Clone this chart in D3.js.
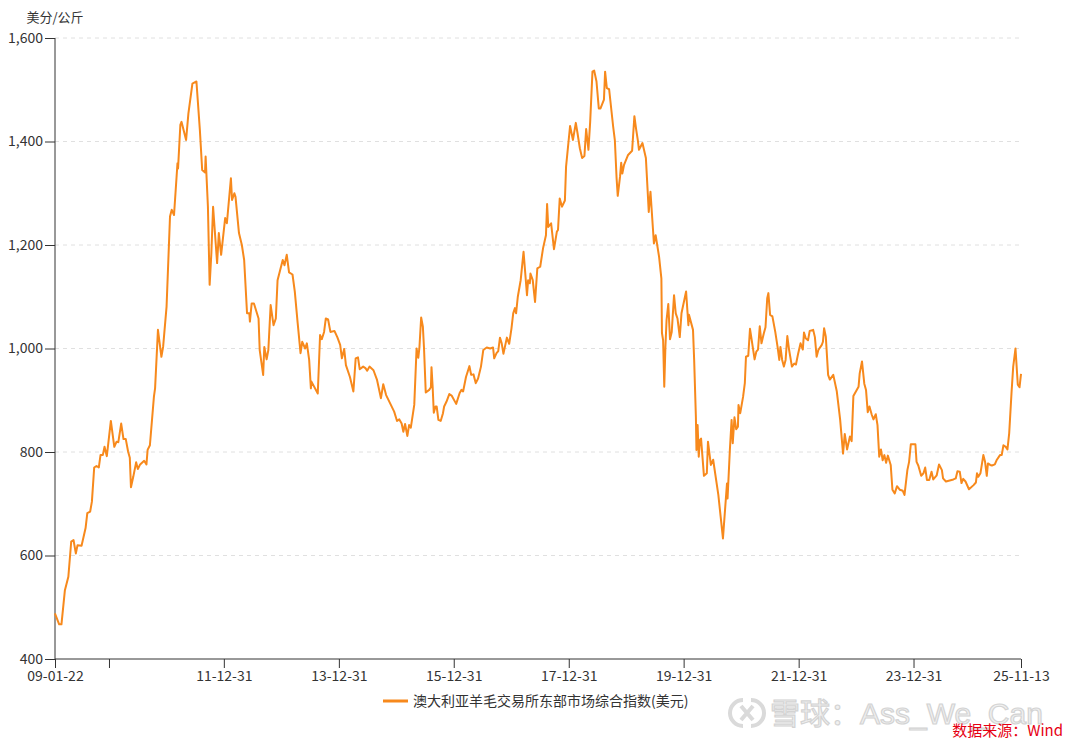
<!DOCTYPE html>
<html><head><meta charset="utf-8">
<script src="https://cdn.jsdelivr.net/npm/d3@7"></script>
<style>
body{margin:0;background:#fff;}
text{font-family:"Noto Sans CJK SC","Liberation Sans",sans-serif;}
</style></head>
<body><svg id="c" width="1082" height="746"></svg>
<script>
// ---- data ----
const yUnit = "美分/公斤";
const seriesName = "澳大利亚羊毛交易所东部市场综合指数(美元)";
const sourceText = "数据来源：Wind";
const watermarkText = "雪球：Ass_We_Can";
const yTicks = [400, 600, 800, 1000, 1200, 1400, 1600];
const xTickDates = ["2009-01-22","2009-12-31","2011-12-31","2013-12-31","2015-12-31","2017-12-31","2019-12-31","2021-12-31","2023-12-31","2025-11-13"];
const xTickLabels = ["09-01-22","","11-12-31","13-12-31","15-12-31","17-12-31","19-12-31","21-12-31","23-12-31","25-11-13"];
const xDomain = ["2009-01-22","2025-11-13"];
// [decimal year, US cents/kg]
const wool = [
[2009.056,488],[2009.13,467],[2009.17,467],[2009.23,533],[2009.29,559],[2009.34,627],[2009.38,630],[2009.42,604],[2009.45,620],[2009.52,619],
[2009.59,653],[2009.62,682],[2009.67,685],[2009.70,704],[2009.74,770],[2009.78,773],[2009.82,770],[2009.85,794],[2009.89,794],[2009.92,810],
[2009.96,792],[2010.03,860],[2010.09,810],[2010.13,820],[2010.16,819],[2010.21,855],[2010.25,825],[2010.29,825],[2010.33,801],[2010.36,789],
[2010.38,732],[2010.42,752],[2010.47,780],[2010.50,767],[2010.54,776],[2010.61,783],[2010.65,776],[2010.67,804],[2010.71,813],[2010.78,907],
[2010.80,923],[2010.85,1036],[2010.91,984],[2010.94,1003],[2011.00,1081],[2011.06,1255],[2011.09,1268],[2011.13,1258],[2011.19,1358],[2011.20,1348],
[2011.24,1432],[2011.26,1438],[2011.34,1403],[2011.38,1454],[2011.45,1512],[2011.52,1516],[2011.58,1422],[2011.62,1345],[2011.67,1340],[2011.68,1371],
[2011.72,1274],[2011.75,1123],[2011.78,1184],[2011.81,1274],[2011.88,1165],[2011.91,1223],[2011.95,1181],[2012.02,1252],[2012.05,1242],[2012.12,1329],
[2012.14,1287],[2012.18,1300],[2012.20,1293],[2012.26,1223],[2012.31,1200],[2012.35,1171],[2012.40,1068],[2012.44,1068],[2012.45,1052],[2012.48,1087],
[2012.52,1087],[2012.60,1058],[2012.62,997],[2012.68,949],[2012.70,1003],[2012.74,979],[2012.77,997],[2012.81,1084],[2012.86,1045],[2012.90,1058],
[2012.93,1132],[2013.02,1171],[2013.05,1161],[2013.09,1181],[2013.13,1147],[2013.19,1143],[2013.23,1110],[2013.28,1049],[2013.33,991],[2013.36,1013],
[2013.41,1000],[2013.44,1010],[2013.48,978],[2013.51,923],[2013.52,936],[2013.63,913],[2013.67,1026],[2013.70,1018],[2013.74,1032],[2013.77,1058],
[2013.81,1056],[2013.85,1032],[2013.92,1034],[2013.97,1022],[2014.02,1007],[2014.05,981],[2014.09,999],[2014.12,968],[2014.19,945],[2014.25,917],
[2014.29,981],[2014.33,983],[2014.36,960],[2014.42,965],[2014.46,962],[2014.49,957],[2014.53,965],[2014.60,958],[2014.66,940],[2014.73,904],
[2014.77,931],[2014.82,910],[2014.89,894],[2014.96,878],[2015.01,860],[2015.05,863],[2015.09,855],[2015.12,839],[2015.15,854],[2015.19,831],
[2015.22,852],[2015.25,847],[2015.31,891],[2015.35,1000],[2015.38,982],[2015.40,1002],[2015.43,1060],[2015.46,1042],[2015.48,1000],[2015.51,915],
[2015.57,920],[2015.60,925],[2015.61,964],[2015.63,926],[2015.65,876],[2015.68,888],[2015.70,888],[2015.73,862],[2015.77,860],[2015.81,875],
[2015.83,888],[2015.87,897],[2015.92,912],[2015.96,909],[2016.04,893],[2016.10,914],[2016.13,920],[2016.16,917],[2016.21,945],[2016.27,966],
[2016.30,949],[2016.34,950],[2016.38,933],[2016.42,942],[2016.47,965],[2016.51,997],[2016.57,1002],[2016.63,1000],[2016.68,1002],[2016.70,981],
[2016.74,991],[2016.77,995],[2016.80,1021],[2016.83,1010],[2016.86,990],[2016.92,1021],[2016.96,1009],[2017.00,1039],[2017.03,1068],[2017.06,1078],
[2017.08,1068],[2017.11,1100],[2017.16,1132],[2017.21,1187],[2017.27,1103],[2017.29,1132],[2017.32,1126],[2017.33,1145],[2017.37,1132],[2017.41,1090],
[2017.45,1155],[2017.50,1158],[2017.55,1194],[2017.60,1219],[2017.62,1279],[2017.64,1235],[2017.69,1242],[2017.74,1192],[2017.79,1226],[2017.81,1229],
[2017.84,1290],[2017.88,1274],[2017.93,1286],[2017.95,1351],[2018.02,1430],[2018.07,1403],[2018.12,1436],[2018.15,1416],[2018.19,1387],[2018.23,1368],
[2018.27,1372],[2018.30,1424],[2018.34,1384],[2018.37,1438],[2018.41,1535],[2018.44,1537],[2018.48,1516],[2018.52,1464],[2018.55,1464],[2018.61,1481],
[2018.63,1535],[2018.66,1503],[2018.70,1501],[2018.77,1429],[2018.80,1402],[2018.83,1329],[2018.85,1295],[2018.89,1332],[2018.91,1359],[2018.93,1338],
[2018.96,1355],[2019.03,1374],[2019.10,1382],[2019.14,1449],[2019.17,1424],[2019.20,1402],[2019.22,1384],[2019.28,1397],[2019.34,1368],[2019.37,1306],
[2019.39,1264],[2019.42,1303],[2019.48,1203],[2019.51,1219],[2019.57,1177],[2019.61,1135],[2019.62,1030],[2019.64,1016],[2019.66,926],[2019.68,1003],
[2019.70,1055],[2019.73,1086],[2019.76,1018],[2019.79,1032],[2019.83,1103],[2019.86,1068],[2019.89,1058],[2019.93,1022],[2019.96,1068],[2020.04,1110],
[2020.08,1045],[2020.09,1065],[2020.16,1036],[2020.18,978],[2020.21,868],[2020.22,804],[2020.24,852],[2020.26,791],[2020.28,823],[2020.30,826],
[2020.32,797],[2020.35,754],[2020.40,759],[2020.42,820],[2020.47,775],[2020.51,785],[2020.60,717],[2020.64,675],[2020.68,633],[2020.72,694],
[2020.75,739],[2020.76,710],[2020.80,804],[2020.83,862],[2020.85,817],[2020.88,867],[2020.91,844],[2020.94,849],[2020.95,891],[2020.98,875],
[2021.03,907],[2021.06,933],[2021.08,984],[2021.12,986],[2021.15,1038],[2021.18,1016],[2021.23,979],[2021.26,994],[2021.29,998],[2021.32,1043],
[2021.35,1010],[2021.39,1029],[2021.42,1041],[2021.45,1097],[2021.47,1107],[2021.50,1065],[2021.54,1062],[2021.59,1032],[2021.63,1003],[2021.66,978],
[2021.68,1003],[2021.71,978],[2021.74,965],[2021.77,978],[2021.80,1024],[2021.83,998],[2021.88,965],[2021.92,971],[2021.95,969],[2021.99,991],
[2022.03,1010],[2022.07,998],[2022.09,1031],[2022.12,1020],[2022.16,1016],[2022.19,1034],[2022.25,1036],[2022.28,1022],[2022.31,984],[2022.34,997],
[2022.40,1007],[2022.42,1013],[2022.44,1039],[2022.47,1023],[2022.51,949],[2022.54,940],[2022.60,949],[2022.66,918],[2022.70,881],[2022.72,862],
[2022.77,797],[2022.80,835],[2022.84,805],[2022.89,830],[2022.92,821],[2022.95,908],[2023.04,926],[2023.06,952],[2023.10,975],[2023.14,932],
[2023.17,920],[2023.20,877],[2023.23,888],[2023.27,872],[2023.30,863],[2023.34,873],[2023.37,852],[2023.40,791],[2023.43,805],[2023.46,784],
[2023.49,794],[2023.52,779],[2023.55,793],[2023.60,775],[2023.63,727],[2023.67,720],[2023.71,734],[2023.76,727],[2023.81,725],[2023.84,717],
[2023.89,765],[2023.92,781],[2023.95,815],[2024.03,815],[2024.05,781],[2024.08,774],[2024.13,754],[2024.17,759],[2024.20,770],[2024.23,746],
[2024.27,746],[2024.31,762],[2024.34,747],[2024.40,755],[2024.44,776],[2024.49,765],[2024.51,749],[2024.56,743],[2024.69,747],[2024.73,749],
[2024.76,763],[2024.80,762],[2024.83,740],[2024.86,748],[2024.90,743],[2024.96,728],[2025.04,736],[2025.08,741],[2025.10,759],[2025.12,752],
[2025.16,759],[2025.21,794],[2025.24,781],[2025.27,754],[2025.29,778],[2025.33,775],[2025.36,774],[2025.41,776],[2025.44,784],[2025.50,794],
[2025.53,794],[2025.56,813],[2025.60,810],[2025.63,805],[2025.66,836],[2025.70,913],[2025.73,965],[2025.77,1000],[2025.81,930],[2025.84,925],
[2025.866,951]
];

// ---- helpers ----
function yearToDate(y){
  const yr = Math.floor(y);
  const a = Date.UTC(yr,0,1), b = Date.UTC(yr+1,0,1);
  return new Date(a + (y-yr)*(b-a));
}
const parse = d3.utcParse("%Y-%m-%d");

// ---- layout ----
const W = 1082, H = 746;
const m = {left:55, right:61, top:38, bottom:87};
const svg = d3.select("#c");
const x = d3.scaleUtc().domain(xDomain.map(parse)).range([m.left, W - m.right]);
const y = d3.scaleLinear().domain([400,1600]).range([H - m.bottom, m.top]);
const orange = "#f7891c";
const axisColor = "#333";

// gridlines
svg.append("g").selectAll("line").data(yTicks.filter(v => v > 400)).join("line")
  .attr("x1", m.left).attr("x2", W - m.right)
  .attr("y1", d => y(d)).attr("y2", d => y(d))
  .attr("stroke", "#e0e0e0").attr("stroke-dasharray", "4,4").attr("stroke-width", 1);

// y axis
const yAxis = d3.axisLeft(y).tickValues(yTicks).tickSize(10).tickPadding(2).tickFormat(d3.format(","));
const gy = svg.append("g").attr("transform", `translate(${m.left},0)`).call(yAxis);
gy.select(".domain").attr("stroke", axisColor);
gy.selectAll(".tick line").attr("stroke", axisColor);
gy.selectAll(".tick text").attr("fill", "#333").style("font-size", "14px");

// x axis
const xAxis = d3.axisBottom(x).tickValues(xTickDates.map(parse)).tickSize(9).tickPadding(3)
  .tickFormat((d, i) => xTickLabels[i]);
const gx = svg.append("g").attr("transform", `translate(0,${H - m.bottom})`).call(xAxis);
gx.select(".domain").attr("stroke", axisColor);
gx.selectAll(".tick line").attr("stroke", axisColor);
gx.selectAll(".tick text").attr("fill", "#333").style("font-size", "14px");
svg.selectAll(".domain").attr("d", function(){ return d3.select(this).attr("d"); });
gy.select(".domain").attr("d", `M0,${m.top}V${H - m.bottom}`);
gx.select(".domain").attr("d", `M${m.left},0H${W - m.right}`);

// unit label
svg.append("text").attr("x", m.left).attr("y", 22).attr("text-anchor", "middle")
  .attr("fill", "#333").style("font-size", "13px").text(yUnit);

// line
const line = d3.line().x(d => x(yearToDate(d[0]))).y(d => y(d[1]));
svg.append("path").datum(wool).attr("d", line).attr("fill", "none")
  .attr("stroke", orange).attr("stroke-width", 2).attr("stroke-linejoin", "round");

// legend
const lg = svg.append("g");
lg.append("line").attr("x1", 383).attr("x2", 408).attr("y1", 701).attr("y2", 701)
  .attr("stroke", orange).attr("stroke-width", 3);
lg.append("text").attr("x", 413).attr("y", 701).attr("dy", "0.35em")
  .attr("fill", "#333").style("font-size", "14px").text(seriesName);

// watermark
const wm = svg.append("g").attr("opacity", 0.9);
const ic = wm.append("g").attr("transform", "translate(747,713)");
ic.append("path").attr("d", "M-4,-13 A13,13 0 1,0 -4,13").attr("fill","none").attr("stroke","#d6d6d6").attr("stroke-width",4);
ic.append("path").attr("d", "M4,-13 A13,13 0 0,1 4,13").attr("fill","none").attr("stroke","#d6d6d6").attr("stroke-width",4);
ic.append("path").attr("d", "M-6,-7 L6,7 M6,-7 L-6,7").attr("stroke","#d6d6d6").attr("stroke-width",4);
wm.append("text").attr("x", 770).attr("y", 724).attr("fill", "#f0f0f0").attr("stroke", "#cfcfcf").attr("stroke-width", 1.2)
  .style("font-size", "30px").style("font-family", "'Liberation Sans','Noto Sans CJK SC',sans-serif").text(watermarkText);

// source
svg.append("text").attr("x", 1063).attr("y", 736).attr("text-anchor", "end")
  .attr("fill", "#e60012").style("font-size", "15px").text(sourceText);
</script></body></html>
